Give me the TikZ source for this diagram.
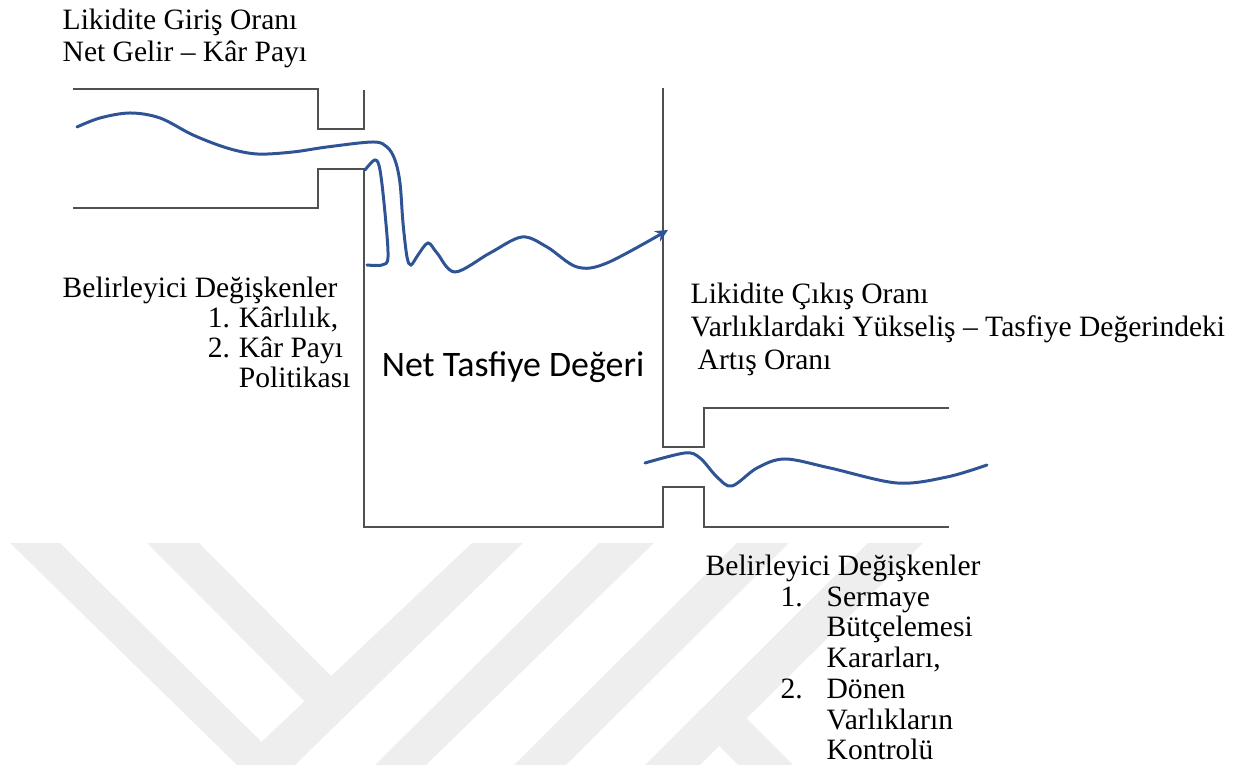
\documentclass[tikz,border=0pt]{standalone}
\usepackage{fontspec}
\setmainfont{Liberation Serif}
\newfontfamily\carlito{Carlito}
\usepackage{xcolor}
\usetikzlibrary{arrows.meta, positioning}
\definecolor{flowblue}{RGB}{47,84,150}
\definecolor{wallgray}{RGB}{80,80,80}
\definecolor{markgray}{RGB}{238,238,238}
\tikzset{
  wall/.style={draw=wallgray, line width=0.6pt, line join=miter},
  flow/.style={draw=flowblue, line width=0.85pt, line cap=round},
  txtblock/.style={inner sep=0pt, align=left,
                   font=\fontsize{8.4}{8.6}\selectfont},
  wmark/.style={fill=markgray, draw=none},
}
\newcommand{\numitem}[3]{\hspace*{#1}\makebox[#2][l]{#3}}

\begin{document}
\begin{tikzpicture}[x=0.01cm, y=-0.01cm, >=Stealth]
  \useasboundingbox (0,0) rectangle (1248,765);

  % faint background mark
  \fill[wmark] (10,543) -- (60,543) -- (285,765) -- (237,765) -- cycle;
  \fill[wmark] (147,543) -- (199,543) -- (335,680) -- (310,707) -- cycle;
  \fill[wmark] (472,543) -- (523,543) -- (295,765) -- (237,765) -- cycle;
  \fill[wmark] (599,543) -- (654,543) -- (426,765) -- (375,765) -- cycle;
  \fill[wmark] (737,543) -- (789,543) -- (566,765) -- (514,765) -- cycle;
  \fill[wmark] (868,543) -- (923,543) -- (700,765) -- (645,765) -- cycle;
  \fill[wmark] (692,719) -- (747,719) -- (793,765) -- (738,765) -- cycle;

  % inlet pipe and tank
  \draw[wall] (73,89) -- (318,89) -- (318,129) -- (364,129) -- (364,90);
  \draw[wall] (73,208) -- (318,208) -- (318,169) -- (364,169)
              -- (364,527) -- (663,527) -- (663,487) -- (704,487)
              -- (704,527) -- (949,527);
  \draw[wall] (663,88) -- (663,447) -- (704,447) -- (704,408) -- (949,408);

  % liquidity flows
  \draw[flow, -{Stealth[length=3.6pt, width=3.4pt]}] plot[smooth, tension=0.55] coordinates {
    (77,127) (100,118) (130,113) (160,118) (193,135) (227,148) (257,154)
    (293,152) (327,147) (373,142) (387,147) (395,160) (400,183) (403,223)
    (407,257) (411,265) (418,255) (428,243) (437,253) (455,272) (490,253)
    (522,237) (547,247) (577,267) (607,263) (668,230)};
  \draw[flow] plot[smooth, tension=0.55] coordinates {
    (365,170) (375,160) (380,170) (385,213) (388,257) (382,265) (367,265)};
  \draw[flow] plot[smooth, tension=0.55] coordinates {
    (645,463) (685,453) (700,458) (717,477) (732,486) (757,468) (785,459)
    (830,468) (897,483) (947,477) (987,465)};

  % labels (base = baseline of the last line)
  \node[txtblock, anchor=base west, font=\fontsize{8.4}{9.1}\selectfont]
    (girisTitle) at (62,62) {Likidite Giriş Oranı\\Net Gelir -- Kâr Payı};
  \node[txtblock, anchor=base west] (girisFactors) at (62,388)
    {Belirleyici Değişkenler\\
     \numitem{41.3pt}{8.8pt}{1.}Kârlılık,\\
     \numitem{41.3pt}{8.8pt}{2.}Kâr Payı\\
     \numitem{50.1pt}{0pt}{}Politikası};
  \node[font=\carlito\fontsize{10.2}{12}\selectfont, inner sep=0pt]
    (nav) at (513,367) {Net Tasfiye Değeri};
  \node[txtblock, anchor=base west, font=\fontsize{8.4}{9.5}\selectfont]
    (cikisTitle) at (690,370)
    {Likidite Çıkış Oranı\\
     Varlıklardaki Yükseliş -- Tasfiye Değerindeki\\
     \hspace*{2pt}Artış Oranı};
  \node[txtblock, anchor=base west, font=\fontsize{8.4}{8.75}\selectfont]
    (cikisFactors) at (705,760)
    {Belirleyici Değişkenler\\
     \numitem{21.3pt}{13.1pt}{1.}Sermaye\\
     \numitem{34.4pt}{0pt}{}Bütçelemesi\\
     \numitem{34.4pt}{0pt}{}Kararları,\\
     \numitem{21.3pt}{13.1pt}{2.}Dönen\\
     \numitem{34.4pt}{0pt}{}Varlıkların\\
     \numitem{34.4pt}{0pt}{}Kontrolü};
\end{tikzpicture}
\end{document}
